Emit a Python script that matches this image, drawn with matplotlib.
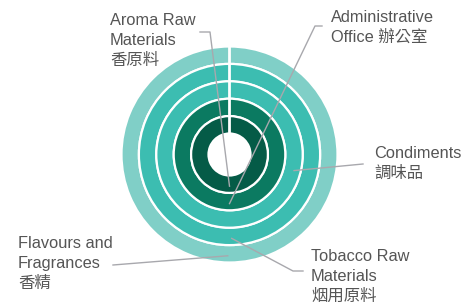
import numpy as np
import matplotlib
matplotlib.use("Agg")
import matplotlib.pyplot as plt

# rings, from the outside in
categories = ["Flavours and Fragrances", "Tobacco Raw Materials", "Condiments",
              "Administrative Office", "Aroma Raw Materials"]
ring_values = [100, 100, 100, 100, 100]
ring_colors = ["#80cfc7", "#3cbdb1", "#3cbdb1", "#0b7a61", "#055b47"]

label_lines = {
    "Aroma Raw Materials": ["Aroma Raw", "Materials", "香原料"],
    "Administrative Office": ["Administrative", "Office 辦公室"],
    "Condiments": ["Condiments", "調味品"],
    "Tobacco Raw Materials": ["Tobacco Raw", "Materials", "烟用原料"],
    "Flavours and Fragrances": ["Flavours and", "Fragrances", "香精"],
}

# layout (image pixels): centre, radii, label anchors
CX, CY = 229.5, 154.5
R_OUT, R_IN = 108.0, 21.0
W, H = 476, 302
ring_w = (R_OUT - R_IN) / len(categories)

layout = {
    # angle of the anchor on the ring, leader path, text x, first baseline
    "Aroma Raw Materials": (-90, [(210, 32), (200, 32)], 110, 25),
    "Administrative Office": (-90, [(315, 26), (322, 26)], 331, 22),
    "Condiments": (-14, [(363, 164)], 374, 158),
    "Tobacco Raw Materials": (-88.5, [(293, 271), (303, 271)], 311, 261),
    "Flavours and Fragrances": (-91, [(113, 265)], 18, 248),
}


def to_data(x, y):
    return x - CX, CY - y


fig = plt.figure(figsize=(W / 100, H / 100), dpi=100)
ax = fig.add_axes([0, 0, 1, 1])

for i, (cat, val, col) in enumerate(zip(categories, ring_values, ring_colors)):
    ax.pie([val], radius=R_OUT - i * ring_w, colors=[col], startangle=90,
           counterclock=False,
           wedgeprops=dict(width=ring_w, edgecolor="white", linewidth=1.6))

# white cut at the top of the rings
ax.plot([0, 0], [0, R_OUT + 2], color="white", lw=2.0, solid_capstyle="butt")

font = ["Liberation Sans", "Noto Sans CJK TC", "DejaVu Sans"]
for i, cat in enumerate(categories):
    ang, path, tx, ty = layout[cat]
    r = R_OUT - i * ring_w - ring_w / 2 + 2
    a = np.deg2rad(ang)
    pts = [(r * np.cos(a), r * np.sin(a))] + [to_data(*p) for p in path]
    xs, ys = zip(*pts)
    ax.plot(xs, ys, color="#a8a8ad", lw=1.0, zorder=5)
    for k, line in enumerate(label_lines[cat]):
        x, y = to_data(tx, ty + 20 * k)
        ax.text(x, y, line, family=font, fontsize=11.8, color="#555555",
                ha="left", va="baseline")

ax.set_xlim(-CX, W - CX)
ax.set_ylim(CY - H, CY)
ax.set_aspect("auto")
ax.axis("off")

fig.savefig("out.png", dpi=100)
